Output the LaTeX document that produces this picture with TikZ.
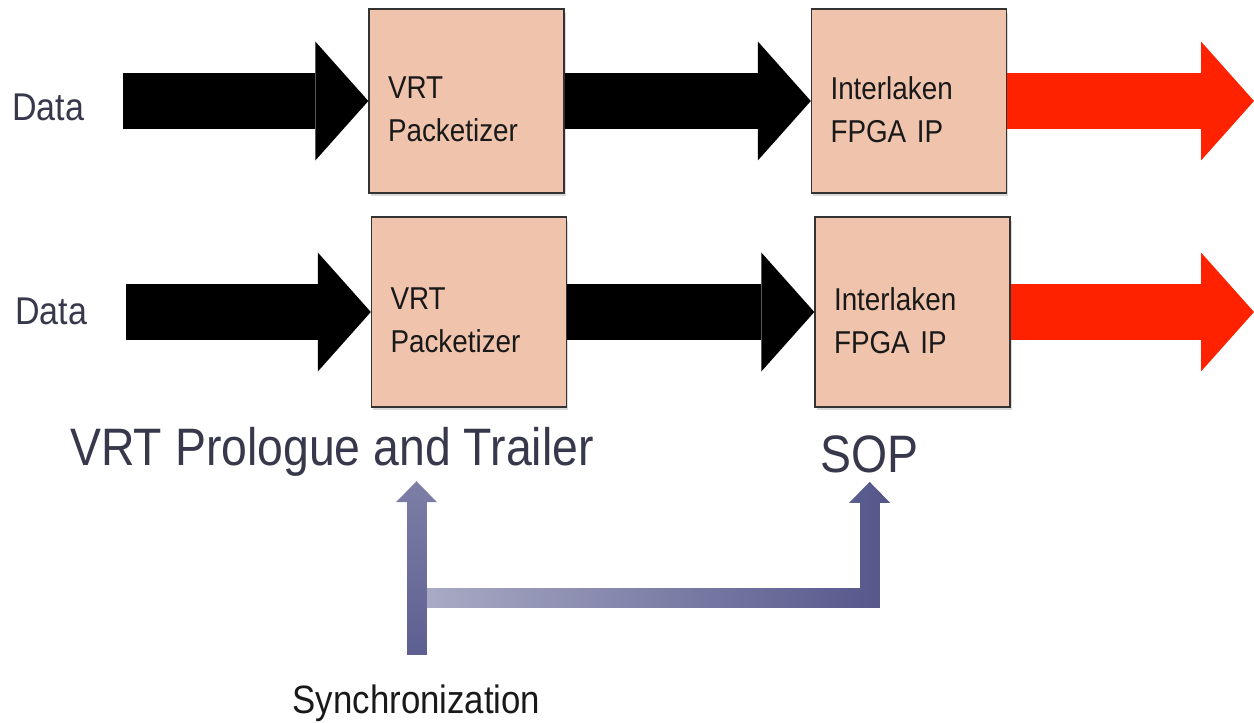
\documentclass[tikz,border=0pt]{standalone}
\usepackage{fontspec}
\newfontfamily\diagfont{Liberation Sans}[FakeStretch=0.88]
\usetikzlibrary{arrows.meta,shadows,fadings}
\definecolor{boxpeach}{HTML}{F0C4AC}
\definecolor{outred}{HTML}{FF2200}
\definecolor{lbltext}{HTML}{38384C}
\definecolor{syncblue}{HTML}{56588C}
\tikzfading[name=syncup, top color=transparent!25, bottom color=transparent!0]
\tikzfading[name=syncright, left color=transparent!50, right color=transparent!0]

\begin{document}
\begin{tikzpicture}[x=0.02cm,y=-0.02cm,
  box/.style={draw=black!80, line width=0.8pt, fill=boxpeach, text=black!90, align=left,
    text width=3.14cm, inner xsep=0.38cm, minimum height=3.68cm, text depth=15pt,
    font=\diagfont\fontsize{18}{24.5}\selectfont,
    drop shadow={opacity=0.3, shadow xshift=1pt, shadow yshift=-2pt}},
  fat/.style={line width=1.12cm, -{Triangle[length=1.06cm, width=2.38cm, line width=0pt]}},
  sync/.style={syncblue, line width=0.4cm, line join=miter,
    -{Triangle[length=0.42cm, width=0.82cm, line width=0pt]}},
  lbl/.style={lbltext, inner sep=0pt, font=\diagfont\fontsize{#1}{#1}\selectfont}]
  \useasboundingbox (0,0) rectangle (1254,723);

  \node[lbl=22] (data1) at (48,107) {Data};
  \node[box] (vrt1) at (466.5,101) {VRT\\Packetizer};
  \node[box] (ila1) at (909,101) {Interlaken\\FPGA IP};
  \coordinate (out1) at (1254,101);

  \node[lbl=22] (data2) at (51,311) {Data};
  \node[box, minimum height=3.8cm] (vrt2) at (469,312) {VRT\\Packetizer};
  \node[box, minimum height=3.8cm] (ila2) at (912.5,312) {Interlaken\\FPGA IP};
  \coordinate (out2) at (1254,312);

  \node[lbl=30, anchor=base] (prolog) at (332,465) {VRT Prologue and Trailer};
  \node[lbl=30, anchor=base] (sop) at (869.5,472) {SOP};
  \node[lbl=22.5, anchor=base, text=black!90] (syncl) at (416.5,713) {Synchronization};
  \coordinate (syncbar) at (427,598);

  \draw[fat, shorten <=0.78cm] (vrt1.west -| data1.east) -- (vrt1.west);
  \draw[fat] (vrt1) -- (ila1);
  \draw[fat, outred] (ila1) -- (out1);
  \draw[fat, shorten <=0.78cm] (vrt2.west -| data2.east) -- (vrt2.west);
  \draw[fat] (vrt2) -- (ila2);
  \draw[fat, outred] (ila2) -- (out2);

  \draw[sync, path fading=syncright, shorten >=0.18cm] (syncbar) -| (sop.south);
  \draw[sync, path fading=syncup, shorten <=0.58cm, shorten >=0.1cm]
    (syncl.north) -- (syncl.north |- prolog.south);
\end{tikzpicture}
\end{document}
